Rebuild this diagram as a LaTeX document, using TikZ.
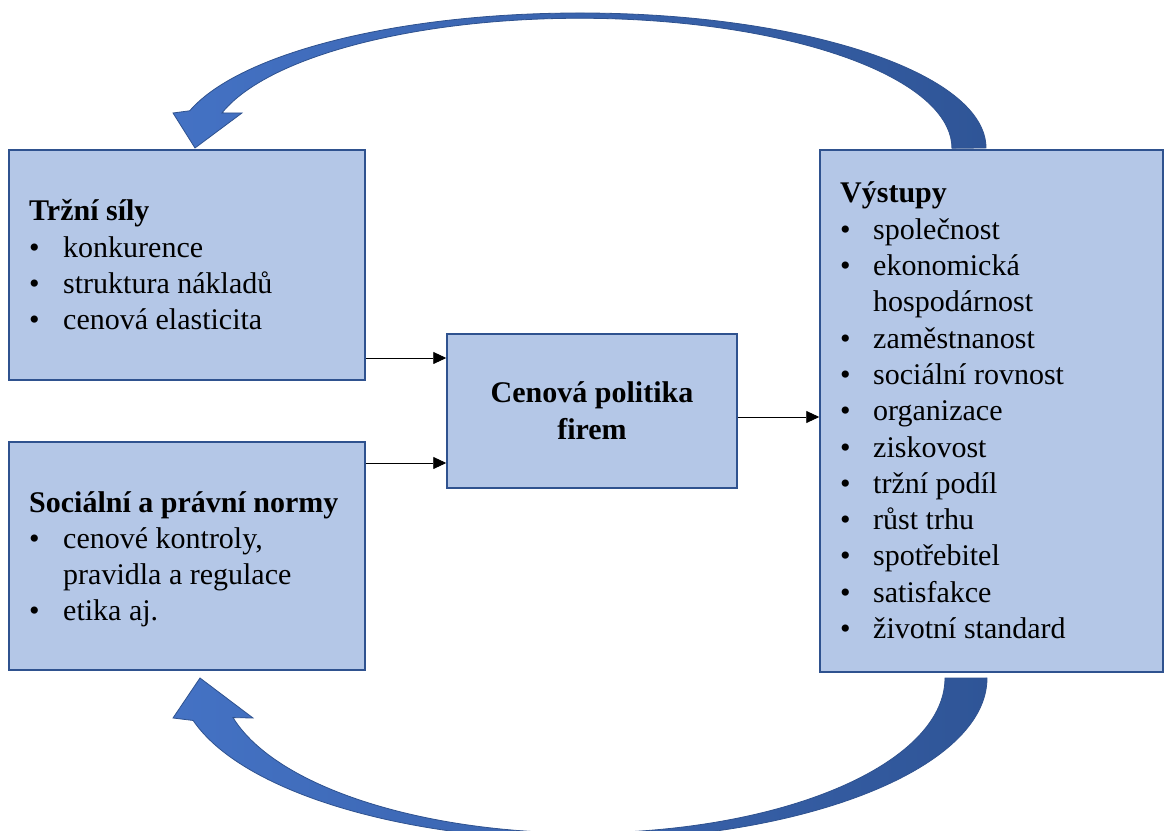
\documentclass[tikz,border=0pt]{standalone}
\usepackage{fontspec}
\newfontfamily\tms{Liberation Serif}
\usetikzlibrary{arrows.meta}
\definecolor{boxfill}{HTML}{B4C7E7}
\definecolor{boxline}{HTML}{2F528F}
\definecolor{arrA}{HTML}{4472C4}
\definecolor{arrB}{HTML}{2F5597}
\begin{document}
\begin{tikzpicture}[x=1pt,y=1pt,
  panel/.style={draw=boxline, line width=1.5pt, fill=boxfill, inner sep=0pt},
  txt/.style={anchor=base west, inner sep=0pt, font=\tms\fontsize{30}{36}\selectfont},
  htxt/.style={txt, font=\tms\fontsize{30}{36}\selectfont\bfseries},
  ctxt/.style={anchor=base, inner sep=0pt, font=\tms\fontsize{30}{36}\selectfont\bfseries},
  conn/.style={draw=black, line width=0.9pt, -{Triangle[length=13pt,width=12pt]}},
  bigarrow/.style={left color=arrA, right color=arrB, draw=boxline, line width=0.8pt}
]
\useasboundingbox (0,0) rectangle (1164,830);

% curved arrows
\shade[bigarrow] (986,682) arc[start angle=0,end angle=164,x radius=406,y radius=135]
  -- (173,717) -- (195,682) -- (242,717) -- (222,717.1)
  arc[start angle=164.2,end angle=0,x radius=372,y radius=130] -- cycle;
\shade[bigarrow] (987,152) arc[start angle=0,end angle=-164.8,x radius=404,y radius=162]
  -- (173,112) -- (200,152) -- (253,112) -- (233,112.4)
  arc[start angle=-165.2,end angle=0,x radius=362,y radius=155] -- cycle;

% boxes
\node[panel, minimum width=356pt, minimum height=230pt] (b1) at (187,565) {};
\node[panel, minimum width=356pt, minimum height=228pt] (b2) at (187,274) {};
\node[panel, minimum width=290pt, minimum height=154pt] (cen) at (592,419) {};
\node[panel, minimum width=343pt, minimum height=522pt] (out) at (991.5,419) {};

% connectors
\draw[conn] (b1.east |- 0,472) -- (cen.west |- 0,472);
\draw[conn] (b2.east |- 0,367) -- (cen.west |- 0,367);
\draw[conn] (cen.east |- 0,413) -- (out.west |- 0,413);

% box 1 text
\node[htxt] (h1) at (29,609) {Tržní síly};
\foreach \t [count=\i] in {konkurence, struktura nákladů, cenová elasticita}{
  \node[txt] (b1b\i) at (29,{609-36.3*\i}) {\textbullet};
  \node[txt] (b1t\i) at (63,{609-36.3*\i}) {\t};
}

% box 2 text
\node[htxt] (h2) at (29,317) {Sociální a právní normy};
\node[txt] (b2b1) at (29,281) {\textbullet};
\node[txt] (b2t1) at (63,281) {cenové kontroly,};
\node[txt] (b2t2) at (63,245) {pravidla a regulace};
\node[txt] (b2b3) at (29,209) {\textbullet};
\node[txt] (b2t3) at (63,209) {etika aj.};

% center text
\node[ctxt] (c1) at (592,427) {Cenová politika};
\node[ctxt] (c2) at (592,390) {firem};

% output box text
\node[htxt] (h3) at (840,627) {Výstupy};
\foreach \n/\t in {1/společnost, 2/ekonomická, 4/zaměstnanost, 5/sociální rovnost,
  6/organizace, 7/ziskovost, 8/tržní podíl, 9/růst trhu, 10/spotřebitel,
  11/satisfakce, 12/životní standard}{
  \node[txt] (ob\n) at (840,{627-36.3*\n}) {\textbullet};
  \node[txt] (ot\n) at (873,{627-36.3*\n}) {\t};
}
\node[txt] (ot3) at (873,{627-36.3*3}) {hospodárnost};
\end{tikzpicture}
\end{document}
